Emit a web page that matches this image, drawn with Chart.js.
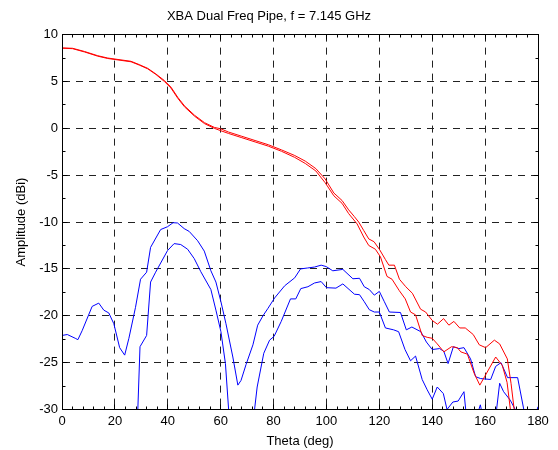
<!DOCTYPE html>
<html>
<head>
<meta charset="utf-8">
<script src="https://cdn.jsdelivr.net/npm/chart.js@4.4.1/dist/chart.umd.min.js"></script>
<style>
  html, body { margin: 0; padding: 0; background: #fff; }
  #wrap { width: 558px; height: 450px; }
</style>
</head>
<body>
<div id="wrap"><canvas id="c" width="558" height="450"></canvas></div>
<script>
// ---- Data ----
const xTicks = [0, 20, 40, 60, 80, 100, 120, 140, 160, 180];
const yTicks = [-30, -25, -20, -15, -10, -5, 0, 5, 10];

// Red, upper trace
const redA_theta = [0, 4, 8.5, 13.5, 17.3, 22.3, 26.1, 29.2, 32.4, 35.5, 38.7, 41.2, 43.8, 46.3, 50.1, 53.9, 57.6, 60, 63, 68, 73, 78, 83, 88, 92, 96, 99.5, 102.8, 105.9, 108.4, 110.5, 112.2, 114.1, 116, 118, 120, 122.3, 123.6, 125.7, 127.6, 130, 132.5, 135.6, 137.5, 140, 142, 144.3, 146.3, 148.2, 150.4, 152.5, 155.5, 157.8, 160.2, 163.5, 165.5, 168.4, 169.8, 171.2];
const redA_amp = [8.58, 8.54, 8.2, 7.75, 7.5, 7.3, 7.15, 6.8, 6.4, 5.8, 5.1, 4.4, 3.3, 2.4, 1.4, 0.6, 0.1, -0.05, -0.4, -0.85, -1.3, -1.75, -2.3, -2.9, -3.5, -4.3, -5.4, -6.9, -7.7, -8.7, -9.4, -10.0, -10.9, -11.8, -12.1, -12.9, -14.0, -14.6, -14.6, -16.1, -16.9, -17.6, -19.3, -19.6, -20.5, -20.9, -20.3, -21.0, -20.6, -21.3, -21.3, -22.0, -23.1, -23.4, -22.6, -23.0, -24.6, -27.2, -30.5];

// Red, lower trace
const redB_theta = [0, 4, 8.5, 13.5, 17.3, 22.3, 26.1, 29.2, 32.4, 35.5, 38.7, 41.2, 43.8, 46.3, 50.1, 53.9, 57.6, 60, 63, 68, 73, 78, 83, 88, 92, 96, 99.5, 102.8, 105.9, 108.4, 111.6, 114.1, 116, 118.5, 120.4, 122.9, 124.8, 127.5, 129.8, 131.8, 133.7, 136.2, 138.1, 140, 141.9, 144.4, 147.3, 149.5, 150.8, 153.3, 155.8, 158, 159.8, 164, 166.5, 168.3, 170];
const redB_amp = [8.55, 8.5, 8.15, 7.7, 7.45, 7.25, 7.1, 6.75, 6.35, 5.75, 5.0, 4.3, 3.2, 2.3, 1.3, 0.5, 0.0, -0.25, -0.55, -1.0, -1.45, -1.9, -2.45, -3.1, -3.75, -4.55, -5.8, -7.2, -8.0, -9.1, -10.2, -11.6, -12.5, -12.9, -13.7, -15.8, -16.1, -17.3, -18.2, -19.6, -19.9, -22.1, -22.3, -22.4, -23.0, -23.85, -23.3, -23.4, -23.85, -24.1, -26.1, -27.4, -26.5, -24.4, -25.3, -27.1, -31];

// Blue, upper trace
const blueA_theta = [0, 2, 5, 6, 7.6, 11.4, 13.9, 15.8, 17.7, 19.6, 21.8, 23.7, 25.3, 27.8, 29.7, 32, 33.5, 37.3, 39.9, 42, 43.7, 46.2, 48.1, 51.3, 53.8, 56.3, 58.2, 60.1, 62, 64.6, 66.5, 67.7, 69.6, 72.2, 74, 76, 77.9, 80.4, 84.2, 88, 90.2, 92.9, 95.5, 98, 99.9, 102.4, 106.2, 110, 112.5, 114.3, 116.2, 118.1, 120, 121.9, 123.8, 128, 130.2, 132.3, 135.7, 137.8, 140, 142.8, 144.4, 146, 148, 150.1, 152, 154.5, 156.4, 158.3, 162.1, 164, 166, 168.5, 172.3, 176, 178, 180];
const blueA_amp = [-22.1, -22.0, -22.4, -22.55, -21.6, -19.0, -18.65, -19.4, -19.7, -20.85, -23.4, -24.2, -22.4, -19.1, -16.1, -15.35, -12.7, -10.8, -10.5, -10.07, -10.1, -10.7, -11.0, -12.0, -13.1, -15.2, -16.4, -18.5, -20.85, -24.4, -27.4, -26.9, -25.2, -23.1, -21.0, -20.0, -19.2, -18.1, -16.8, -15.95, -15.0, -14.9, -14.8, -14.6, -14.75, -15.2, -15.05, -16.05, -16.0, -16.9, -17.2, -17.8, -17.4, -18.5, -19.6, -19.65, -21.5, -21.2, -21.7, -22.8, -23.6, -23.5, -23.8, -25.1, -23.3, -23.5, -23.4, -24.6, -26.5, -26.7, -26.8, -25.4, -25.0, -26.6, -26.6, -32, -31.5, -29.7];

// Blue, lower trace
const blueB_theta = [28.3, 29.5, 32, 33.5, 35.4, 39.9, 42.4, 44.9, 47.5, 50, 52.5, 56.3, 58.2, 60.1, 61.8, 63.5, 66, 70, 72.0, 73.8, 76.3, 78.5, 80.2, 82.9, 86.4, 88.4, 90.3, 93, 95.5, 98, 100, 103.6, 106.2, 110.6, 112.5, 114.3, 116.2, 118.1, 120, 122.3, 125.4, 127.3, 129.7, 131.8, 133.7, 136.2, 138.1, 140, 141.9, 144.2, 145.6, 147.8, 149.8, 152, 153, 155.5, 158.2, 160, 163.5, 165.5, 167, 169.5, 171.4, 173, 176, 180];
const blueB_amp = [-33, -23.3, -22.1, -16.4, -15.35, -13.05, -12.3, -12.4, -12.9, -13.9, -15.3, -17.2, -19.4, -21.7, -25.1, -32, -35, -35, -32, -27.6, -24.0, -22.6, -22.2, -20.6, -18.2, -18.2, -17.1, -16.9, -16.5, -16.35, -17.0, -17.05, -16.6, -17.7, -17.75, -18.5, -19.35, -19.6, -19.6, -21.3, -21.5, -21.7, -23.6, -24.8, -24.3, -26.8, -27.9, -28.9, -27.6, -28.3, -30, -29.2, -29.1, -28.1, -31, -32, -29.5, -32, -32, -27.2, -28.1, -29.0, -30, -32, -35, -35];

const toXY = (t, a) => t.map((v, i) => ({ x: v, y: a[i] }));

const FONT = '"Liberation Sans", Arial, Helvetica, sans-serif';

const framePlugin = {
  id: 'frame',
  afterDatasetsDraw(chart) {
    const { ctx, chartArea: a, scales: { x, y } } = chart;
    const al = p => Math.round(p - 0.5) + 0.5;
    const L = al(a.left), R = al(a.right), T = al(a.top), B = al(a.bottom);
    ctx.save();
    ctx.setLineDash([]);
    ctx.strokeStyle = '#000';
    ctx.lineWidth = 1;
    ctx.strokeRect(L, T, R - L, B - T);
    ctx.beginPath();
    for (let v = 0; v <= 180; v += 4) {
      const px = al(x.getPixelForValue(v));
      const len = (v % 20 === 0) ? 5 : 3;
      ctx.moveTo(px, B); ctx.lineTo(px, B - len);
      ctx.moveTo(px, T); ctx.lineTo(px, T + len);
    }
    for (let v = -30; v <= 10; v += 2.5) {
      const py = al(y.getPixelForValue(v));
      const len = (v % 5 === 0) ? 5 : 3;
      ctx.moveTo(L, py); ctx.lineTo(L + len, py);
      ctx.moveTo(R, py); ctx.lineTo(R - len, py);
    }
    ctx.stroke();
    ctx.restore();
  }
};

new Chart(document.getElementById('c'), {
  type: 'scatter',
  data: {
    datasets: [
      { data: toXY(redA_theta, redA_amp), borderColor: 'rgb(255,0,0)' },
      { data: toXY(redB_theta, redB_amp), borderColor: 'rgb(255,0,0)' },
      { data: toXY(blueA_theta, blueA_amp), borderColor: 'rgb(0,0,255)' },
      { data: toXY(blueB_theta, blueB_amp), borderColor: 'rgb(0,0,255)' }
    ].map(d => Object.assign(d, { showLine: true, pointRadius: 0, borderWidth: 1, tension: 0, fill: false }))
  },
  options: {
    responsive: false,
    animation: false,
    devicePixelRatio: 1,
    layout: { padding: { left: 0, right: 20, top: 0, bottom: 0 } },
    plugins: {
      legend: { display: false },
      tooltip: { enabled: false },
      title: {
        display: true,
        text: 'XBA Dual Freq Pipe, f = 7.145 GHz',
        color: '#000',
        font: { family: FONT, size: 13, weight: 'normal' },
        padding: { top: 9, bottom: 10 }
      }
    },
    scales: {
      x: {
        type: 'linear', min: 0, max: 180,
        afterBuildTicks: s => { s.ticks = xTicks.map(v => ({ value: v })); },
        afterFit: s => { s.height = 40.5; },
        ticks: { color: '#000', font: { family: FONT, size: 13 }, padding: 4, maxRotation: 0 },
        grid: { color: '#222', lineWidth: 1, drawTicks: false },
        border: { display: true, color: '#000', dash: [7, 6] },
        title: { display: true, text: 'Theta (deg)', color: '#000', font: { family: FONT, size: 13 }, padding: { top: 0, bottom: 1 } }
      },
      y: {
        type: 'linear', min: -30, max: 10,
        afterBuildTicks: s => { s.ticks = yTicks.map(v => ({ value: v })); },
        afterFit: s => { s.width = 62; },
        ticks: { color: '#000', font: { family: FONT, size: 13 }, padding: 4 },
        grid: { color: '#222', lineWidth: 1, drawTicks: false },
        border: { display: true, color: '#000', dash: [7, 6] },
        title: { display: true, text: 'Amplitude (dBi)', color: '#000', font: { family: FONT, size: 13 }, padding: { top: 14, bottom: 0 } }
      }
    }
  },
  plugins: [framePlugin]
});
</script>
</body>
</html>
